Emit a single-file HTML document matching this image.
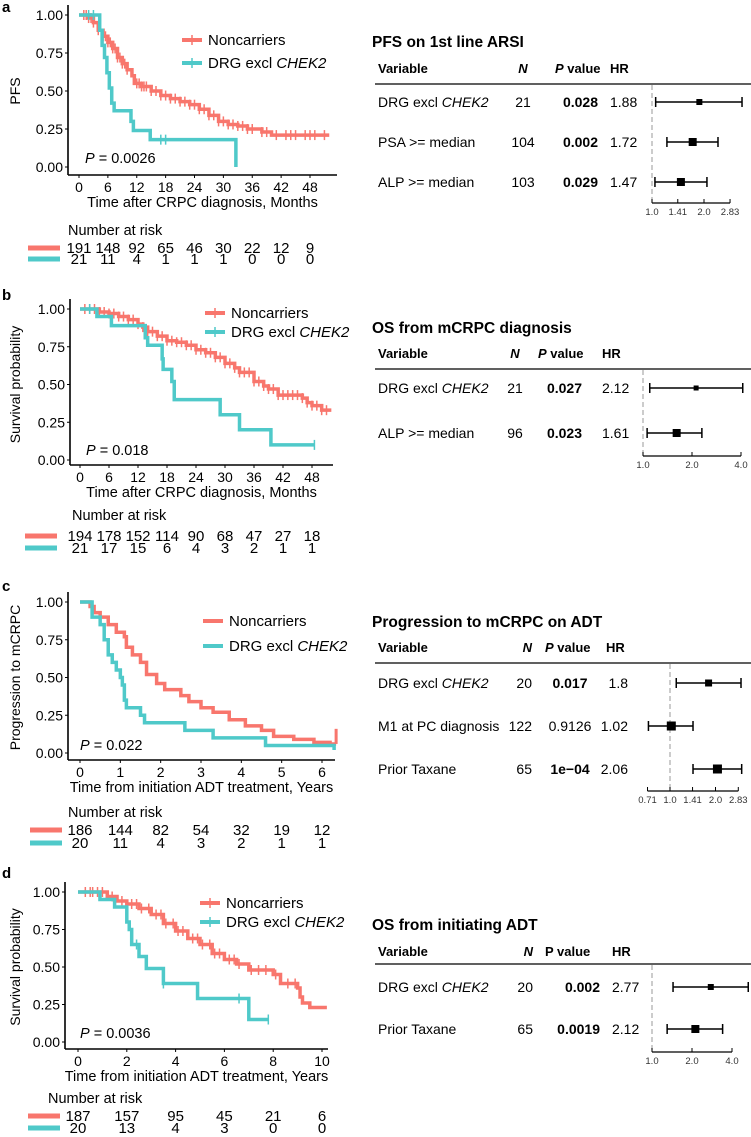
<!DOCTYPE html>
<html><head><meta charset="utf-8"><style>
body{margin:0;background:#fff}
svg{display:block;font-family:"Liberation Sans",Arial,sans-serif}
</style></head><body>
<svg id="fig" width="751" height="1137" viewBox="0 0 751 1137" xmlns="http://www.w3.org/2000/svg"></svg>
<script>
// ---------- Panel data (KM curves: times, survival) ----------
const aNonT=[0,2,3,4,5,6,7,8,9,10,11,11.5,13,15,17,19,21,23,25,27,29,31,33,35,38,40];
const aNonS=[1,0.98,0.95,0.9,0.86,0.82,0.78,0.72,0.68,0.64,0.6,0.55,0.53,0.5,0.47,0.45,0.43,0.41,0.38,0.34,0.3,0.28,0.27,0.25,0.23,0.21];
const aNonEnd=52;
const aNonCens=[1,1.5,2,2.5,3,4,5,5.5,6,6.5,7,7.5,8,8.5,9,9.5,10,12,12.5,13,13.5,14,15,16,17,18,19,20,21,22,23,24,25,26,27,28,29,30,31,32,33,34,35,36,38,39,41,43,44,45,47,48,49,51];
const aDrgT=[0,4.3,4.8,5.3,5.8,6.3,6.8,7.3,10.8,11.3,14.8,32.6];
const aDrgS=[1,0.9,0.8,0.72,0.62,0.52,0.42,0.37,0.3,0.24,0.18,0];
const aDrgEnd=32.6;
const aDrgCens=[2,3,17,18];
const aRiskNon=[191,148,92,65,46,30,22,12,9];
const aRiskDrg=[21,11,4,1,1,1,0,0,0];

const bNonT=[0,4,6,8,10,12,13,14,16,18,20,22,24,26,28,30,32,33,36,38,39,41,46,47,48,50];
const bNonS=[1,0.98,0.97,0.95,0.93,0.9,0.88,0.85,0.82,0.79,0.78,0.76,0.73,0.71,0.68,0.64,0.61,0.58,0.52,0.49,0.47,0.43,0.41,0.38,0.36,0.33];
const bNonEnd=52;
const bNonCens=[1,2,3,4,5,6,7,8,9,10,11,12,13,14,15,16,17,18,19,20,21,22,23,24,25,26,27,28,29,30,31,32,33,34,35,36,37,38,39,40,41,42,43,44,45,46,47,48,49,50,51];
const bDrgT=[0,3.5,6.5,13.5,14,17,17.2,19,19.5,29,33,39.5];
const bDrgS=[1,0.95,0.89,0.81,0.76,0.67,0.6,0.52,0.4,0.3,0.2,0.1];
const bDrgEnd=48.5;
const bDrgCens=[2,48.5];
const bRiskNon=[194,178,152,114,90,68,47,27,18];
const bRiskDrg=[21,17,15,6,4,3,2,1,1];

const cNonT=[0,0.25,0.35,0.5,0.7,0.9,1.1,1.15,1.3,1.5,1.65,1.9,2.1,2.5,2.7,3,3.3,3.7,4.1,4.5,4.8,5.3,5.8,6.2];
const cNonS=[1,0.97,0.93,0.9,0.85,0.8,0.77,0.7,0.65,0.6,0.52,0.46,0.42,0.38,0.34,0.3,0.27,0.22,0.18,0.15,0.11,0.09,0.07,0.06];
const cNonEnd=6.35;
const cDrgT=[0,0.3,0.5,0.6,0.7,0.8,0.9,1.0,1.05,1.1,1.15,1.5,1.6,2.6,3.3,4.6,6.3];
const cDrgS=[1,0.9,0.85,0.75,0.65,0.6,0.55,0.5,0.45,0.35,0.3,0.25,0.2,0.15,0.1,0.05,0.02];
const cDrgEnd=6.3;
const cRiskNon=[186,144,82,54,32,19,12];
const cRiskDrg=[20,11,4,3,2,1,1];

const dNonT=[0,1.2,1.6,2,2.5,3,3.5,4,4.5,5,5.5,6,6.5,7,8,8.3,9,9.1,9.2,9.5];
const dNonS=[1,0.97,0.94,0.92,0.89,0.85,0.79,0.74,0.69,0.65,0.59,0.55,0.52,0.48,0.45,0.39,0.36,0.3,0.26,0.23];
const dNonEnd=10.2;
const dNonCens=[0.3,0.5,0.6,0.8,1,1.4,1.8,2.2,2.4,2.6,2.9,3.2,3.4,3.6,3.9,4.1,4.3,4.7,4.9,5.1,5.4,5.6,5.8,6.2,6.4,6.6,7.1,7.4,7.7,8.1,8.6,8.9];
const dDrgT=[0,0.9,1.5,2,2.1,2.2,2.5,2.8,3.5,4.9,7];
const dDrgS=[1,0.95,0.9,0.8,0.75,0.65,0.57,0.49,0.39,0.29,0.15];
const dDrgEnd=7.8;
const dDrgCens=[2.4,3.5,6.6,7.8];
const dRiskNon=[187,157,95,45,21,6];
const dRiskDrg=[20,13,4,3,0,0];

// ---------- Forest data ----------
const aVars=["DRG excl |CHEK2","PSA >= median","ALP >= median"];
const aN=["21","104","103"];const aP=["0.028","0.002","0.029"];const aPb=[1,1,1];
const aHR=[1.88,1.72,1.47];const aLo=[1.05,1.22,1.04];const aHi=[3.32,2.41,2.08];
const aTicks=[1.0,1.41,2.0,2.83];
const bVars=["DRG excl |CHEK2","ALP >= median"];
const bN=["21","96"];const bP=["0.027","0.023"];const bPb=[1,1];
const bHR=[2.12,1.61];const bLo=[1.1,1.06];const bHi=[4.1,2.3];
const bTicks=[1.0,2.0,4.0];
const cVars=["DRG excl |CHEK2","M1 at PC diagnosis","Prior Taxane"];
const cN=["20","122","65"];const cP=["0.017","0.9126","1e\u221204"];const cPb=[1,0,1];
const cHR=[1.8,1.02,2.06];const cLo=[1.1,0.72,1.42];const cHi=[2.95,1.42,2.98];
const cTicks=[0.71,1.0,1.41,2.0,2.83];
const dVars=["DRG excl |CHEK2","Prior Taxane"];
const dN=["20","65"];const dP=["0.002","0.0019"];const dPb=[1,1];
const dHR=[2.77,2.12];const dLo=[1.44,1.3];const dHi=[5.3,3.4];
const dTicks=[1.0,2.0,4.0];

const RED="#F8766D",TEAL="#4FC9C9",NS="http://www.w3.org/2000/svg";
const svg=document.getElementById('fig');
function el(tag,attrs,parent){const e=document.createElementNS(NS,tag);for(const k in attrs)e.setAttribute(k,attrs[k]);(parent||svg).appendChild(e);return e;}
function txt(x,y,s,size,anchor,weight,parent){const t=el('text',{x:x,y:y,'font-size':size,'text-anchor':anchor||'start','font-weight':weight||'normal',fill:'#000'},parent);
  if(s.indexOf('|')>=0){const p=s.split('|');t.appendChild(document.createTextNode(p[0]));const ts=el('tspan',{'font-style':'italic'},t);ts.textContent=p[1];}
  else t.textContent=s;return t;}

function stepVal(T,S,t){let v=S[0];for(let i=0;i<T.length;i++){if(T[i]<=t)v=S[i];}return v;}
function curve(g,T,S,end,cens,col,X,Y,name){
  let d='M'+X(T[0])+' '+Y(S[0]);
  for(let i=1;i<T.length;i++){d+=' H'+X(T[i])+' V'+Y(S[i]);}
  d+=' H'+X(end);
  const p=el('path',{d:d,fill:'none',stroke:col,'stroke-width':3.5},g);
  
  
  (cens||[]).forEach(t=>{const v=stepVal(T,S,t);
    const c=el('line',{x1:X(t),x2:X(t),y1:Y(v)-5,y2:Y(v)+5,stroke:col,'stroke-width':1.5},g);
    
    });
}
function km(o){
  const g=el('g',{});
  
  
  const X=t=>o.x0+(t-o.t0)*(o.x1-o.x0)/(o.t1-o.t0);
  const Y=s=>o.y0+(1-s)*(o.y1-o.y0);
  txt(2,o.letY,o.letter,15,'start','bold',g);
  el('line',{x1:o.ax,x2:o.ax,y1:o.y0-10,y2:o.xa,stroke:'#000','stroke-width':1.6},g);
  el('line',{x1:o.ax,x2:o.axEnd,y1:o.xa,y2:o.xa,stroke:'#000','stroke-width':1.6},g);
  [0,0.25,0.5,0.75,1].forEach(s=>{el('line',{x1:o.ax-3,x2:o.ax,y1:Y(s),y2:Y(s),stroke:'#000'},g);
    txt(o.ax-5,Y(s)+5,s.toFixed(2),14,'end','normal',g);});
  o.ticks.forEach(t=>{el('line',{x1:X(t),x2:X(t),y1:o.xa,y2:o.xa+3,stroke:'#000'},g);
    txt(X(t),o.xa+17,String(t),14,'middle','normal',g);});
  txt((o.ax+o.axEnd)/2,o.xa+32,o.xtitle,14.5,'middle','normal',g);
  const yt=txt(0,0,o.ytitle,14,'middle','normal',g);
  yt.setAttribute('transform','translate(20,'+((o.y0+o.y1)/2)+') rotate(-90)');
  const pt=txt(o.px,o.py,'|P',14.5,'start','normal',g);pt.textContent='';
  const it=el('tspan',{'font-style':'italic'},pt);it.textContent='P';
  const rest=el('tspan',{},pt);rest.textContent=' = '+o.p;
  curve(g,o.nonT,o.nonS,o.nonEnd,o.nonC,RED,X,Y,'noncarriers-curve');
  curve(g,o.drgT,o.drgS,o.drgEnd,o.drgC,TEAL,X,Y,'drg-curve');
  [[RED,'Noncarriers',o.lg1],[TEAL,'DRG excl |CHEK2',o.lg2]].forEach(([c,l,y])=>{
    const lg=el('g',{},g);
    
    
    el('line',{x1:o.lgx,x2:o.lgx+20,y1:y,y2:y,stroke:c,'stroke-width':4},lg);
    if(o.lgCens)el('line',{x1:o.lgx+10,x2:o.lgx+10,y1:y-5,y2:y+5,stroke:c,'stroke-width':1.5},lg);
    txt(o.lgx+26,y+5,l,15,'start','normal',lg);});
  const rg=el('g',{},g);
  
  
  txt(o.narX,o.narY+5,'Number at risk',14.5,'start','normal',rg);
  [[RED,o.riskNon,o.r1],[TEAL,o.riskDrg,o.r2]].forEach(([c,arr,y])=>{
    el('line',{x1:o.barX,x2:o.barX+32,y1:y,y2:y,stroke:c,'stroke-width':5},rg);
    arr.forEach((v,i)=>txt(X(o.ticks[i]),y+5,String(v),15,'middle','normal',rg));});
}
km({name:'km-panel-a',letter:'a',letY:12,x0:79,x1:310,t0:0,t1:48,y0:15,y1:167,ax:68,axEnd:337,xa:175,
  ticks:[0,6,12,18,24,30,36,42,48],xtitle:'Time after CRPC diagnosis, Months',ytitle:'PFS',px:85,py:163,p:'0.0026',
  nonT:aNonT,nonS:aNonS,nonEnd:aNonEnd,nonC:aNonCens,drgT:aDrgT,drgS:aDrgS,drgEnd:aDrgEnd,drgC:aDrgCens,
  lgx:182,lg1:40,lg2:63,lgCens:true,narX:68,narY:230,r1:248,r2:259,barX:28,riskNon:aRiskNon,riskDrg:aRiskDrg});
km({name:'km-panel-b',letter:'b',letY:300,x0:80,x1:312,t0:0,t1:48,y0:309,y1:460,ax:70,axEnd:333,xa:465,
  ticks:[0,6,12,18,24,30,36,42,48],xtitle:'Time after CRPC diagnosis, Months',ytitle:'Survival probability',px:86,py:455,p:'0.018',
  nonT:bNonT,nonS:bNonS,nonEnd:bNonEnd,nonC:bNonCens,drgT:bDrgT,drgS:bDrgS,drgEnd:bDrgEnd,drgC:bDrgCens,
  lgx:205,lg1:313,lg2:332,lgCens:true,narX:72,narY:515,r1:536,r2:548,barX:25,riskNon:bRiskNon,riskDrg:bRiskDrg});
km({name:'km-panel-c',letter:'c',letY:591,x0:80,x1:322,t0:0,t1:6,y0:602,y1:753,ax:68,axEnd:335,xa:760,
  ticks:[0,1,2,3,4,5,6],xtitle:'Time from initiation ADT treatment, Years',ytitle:'Progression to mCRPC',px:80,py:750,p:'0.022',
  nonT:cNonT,nonS:cNonS,nonEnd:cNonEnd,nonC:[],drgT:cDrgT,drgS:cDrgS,drgEnd:cDrgEnd,drgC:[],
  lgx:203,lg1:621,lg2:646,lgCens:false,narX:68,narY:812,r1:830,r2:843,barX:30,riskNon:cRiskNon,riskDrg:cRiskDrg});
(function(){const X=t=>80+t*(322-80)/6,Y=s=>602+(1-s)*151;
 const j=el('line',{x1:X(cNonEnd),x2:X(cNonEnd),y1:Y(0.06),y2:Y(0.16),stroke:RED,'stroke-width':3});
 
 })();
km({name:'km-panel-d',letter:'d',letY:878,x0:78,x1:322,t0:0,t1:10,y0:892,y1:1042,ax:65,axEnd:328,xa:1049,
  ticks:[0,2,4,6,8,10],xtitle:'Time from initiation ADT treatment, Years',ytitle:'Survival probability',px:80,py:1038,p:'0.0036',
  nonT:dNonT,nonS:dNonS,nonEnd:dNonEnd,nonC:dNonCens,drgT:dDrgT,drgS:dDrgS,drgEnd:dDrgEnd,drgC:dDrgCens,
  lgx:200,lg1:903,lg2:922,lgCens:true,narX:48,narY:1098,r1:1116,r2:1128,barX:28,riskNon:dRiskNon,riskDrg:dRiskDrg});

function forest(o){
  const g=el('g',{});
  
  
  const X=h=>o.ref+Math.log2(h)*o.unit;
  txt(372,o.titleY+5,o.title,15.5,'start','bold',g);
  txt(378,o.headY+5,'Variable',13,'start','bold',g);
  const nh=txt(o.nX,o.headY+5,'N',13,o.nAnchor,'bold',g);nh.setAttribute('font-style','italic');
  const ph=txt(o.pHX,o.headY+5,'',13,'start','bold',g);
  const pi=el('tspan',{'font-style':o.pItal?'italic':'normal'},ph);pi.textContent='P';
  const pr=el('tspan',{},ph);pr.textContent=' value';
  txt(o.hrHX,o.headY+5,'HR',13,'start','bold',g);
  el('line',{x1:375,x2:751,y1:o.lineY,y2:o.lineY,stroke:'#000','stroke-width':1.3},g);
  el('line',{x1:X(1),x2:X(1),y1:o.lineY+1,y2:o.axY,stroke:'#aaa','stroke-width':1.2,'stroke-dasharray':'5,3'},g);
  o.vars.forEach((v,i)=>{const y=o.rows[i];
    const r=el('g',{},g);
    
    
    txt(378,y+5,v,14,'start','normal',r);
    txt(o.nX,y+5,o.N[i],14,o.nAnchor,'normal',r);
    txt(o.pX,y+5,o.P[i],14,o.pAnchor,o.Pb[i]?'bold':'normal',r);
    txt(o.hrX,y+5,String(o.HR[i]),14,o.hrAnchor,'normal',r);
    el('line',{x1:X(o.lo[i]),x2:X(o.hi[i]),y1:y,y2:y,stroke:'#000','stroke-width':1.5},r);
    [o.lo[i],o.hi[i]].forEach(h=>el('line',{x1:X(h),x2:X(h),y1:y-5,y2:y+5,stroke:'#000','stroke-width':1.5},r));
    const s=o.box[i];el('rect',{x:X(o.HR[i])-s/2,y:y-s/2,width:s,height:s,fill:'#000'},r);});
  el('line',{x1:X(o.ticks[0]),x2:X(o.ticks[o.ticks.length-1]),y1:o.axY,y2:o.axY,stroke:'#000','stroke-width':1.3},g);
  o.ticks.forEach(t=>{el('line',{x1:X(t),x2:X(t),y1:o.axY,y2:o.axY-4,stroke:'#000'},g);
    txt(X(t),o.axY+12,t.toFixed(t<1||t%1?2:1).replace(/^(\d\.\d)0$/,'$1'),9.5,'middle','normal',g).setAttribute('fill','#333');});
}
forest({name:'forest-pfs',title:'PFS on 1st line ARSI',titleY:42,headY:68,lineY:84,rows:[102,142,182],axY:203,ref:652,unit:52,
  vars:aVars,N:aN,P:aP,Pb:aPb,HR:aHR,lo:aLo,hi:aHi,ticks:aTicks,box:[6,8,8],
  nX:523,nAnchor:'middle',pHX:555,pItal:true,pX:598,pAnchor:'end',hrX:610,hrAnchor:'start',hrHX:610});
forest({name:'forest-os-mcrpc',title:'OS from mCRPC diagnosis',titleY:328,headY:353,lineY:369,rows:[388,433],axY:456,ref:643,unit:49,
  vars:bVars,N:bN,P:bP,Pb:bPb,HR:bHR,lo:bLo,hi:bHi,ticks:bTicks,box:[5,8],
  nX:515,nAnchor:'middle',pHX:538,pItal:true,pX:582,pAnchor:'end',hrX:602,hrAnchor:'start',hrHX:602});
forest({name:'forest-progression',title:'Progression to mCRPC on ADT',titleY:622,headY:647,lineY:663,rows:[683,726,769],axY:791,ref:670,unit:45.5,
  vars:cVars,N:cN,P:cP,Pb:cPb,HR:cHR,lo:cLo,hi:cHi,ticks:cTicks,box:[7,9,9],
  nX:532,nAnchor:'end',pHX:545,pItal:true,pX:570,pAnchor:'middle',hrX:628,hrAnchor:'end',hrHX:606});
forest({name:'forest-os-adt',title:'OS from initiating ADT',titleY:925,headY:951,lineY:964,rows:[987,1029],axY:1052,ref:652,unit:40,
  vars:dVars,N:dN,P:dP,Pb:dPb,HR:dHR,lo:dLo,hi:dHi,ticks:dTicks,box:[6,8],
  nX:533,nAnchor:'end',pHX:545,pItal:false,pX:600,pAnchor:'end',hrX:612,hrAnchor:'start',hrHX:612});
</script>
</body></html>
